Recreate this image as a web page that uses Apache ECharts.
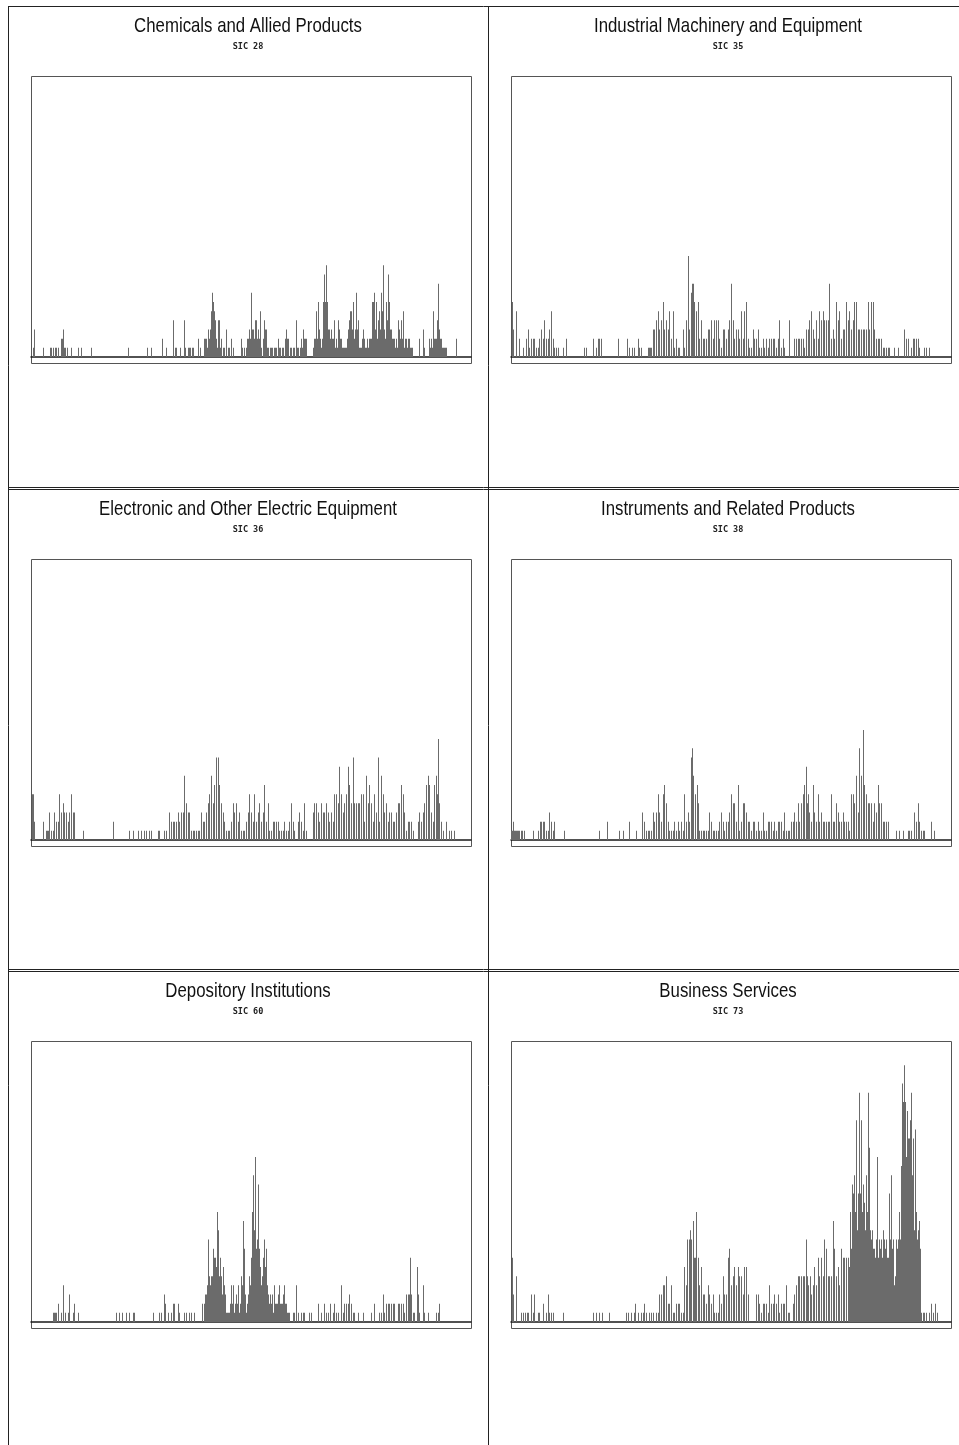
<!DOCTYPE html>
<html>
<head>
<meta charset="utf-8">
<script src="https://cdn.jsdelivr.net/npm/echarts@6/dist/echarts.min.js"></script>
<style>
  html, body { margin: 0; padding: 0; background: #fff; }
  #chart { width: 959px; height: 1445px; }
</style>
</head>
<body>
<div id="chart"></div>
<script>
// Industry panels: title, SIC code and counts per period ([period, count]).
const titles = [
  'Chemicals and Allied Products',
  'Industrial Machinery and Equipment',
  'Electronic and Other Electric Equipment',
  'Instruments and Related Products',
  'Depository Institutions',
  'Business Services'
];
const sicCodes = ['SIC 28', 'SIC 35', 'SIC 36', 'SIC 38', 'SIC 60', 'SIC 73'];

const chemicals = [[2,1],[3,3],[12,1],[19,1],[20,1],[22,1],[24,1],[25,1],[27,1],[30,2],[31,2],[32,3],[33,1],[34,1],[36,1],[40,1],[47,1],[50,1],[60,1],[97,1],[116,1],[120,1],[131,2],[135,1],[142,4],[144,1],[145,1],[149,1],[153,4],[154,1],[157,1],[158,1],[159,1],[161,1],[162,1],[167,2],[169,1],[173,2],[174,2],[175,2],[176,1],[177,3],[178,2],[179,3],[180,5],[181,7],[182,6],[183,5],[184,4],[185,2],[186,1],[187,4],[188,4],[189,1],[190,2],[192,1],[193,1],[195,3],[197,1],[198,1],[200,2],[202,1],[210,2],[211,1],[213,1],[215,1],[216,2],[217,2],[218,3],[219,2],[220,7],[221,3],[222,3],[223,2],[224,4],[225,4],[226,2],[227,3],[228,2],[229,5],[230,1],[232,2],[233,4],[234,3],[235,3],[236,1],[237,1],[239,1],[240,1],[241,1],[243,1],[244,1],[245,1],[247,2],[248,1],[249,1],[251,1],[252,1],[254,2],[255,3],[256,2],[257,2],[259,1],[260,1],[262,1],[263,1],[265,4],[266,1],[267,1],[269,1],[270,2],[271,1],[272,3],[273,2],[274,2],[275,2],[282,1],[283,2],[284,2],[285,5],[286,2],[287,6],[288,3],[289,2],[290,1],[291,2],[292,6],[293,9],[294,6],[295,10],[296,6],[297,3],[298,3],[299,2],[300,3],[301,2],[302,2],[303,4],[304,1],[305,2],[306,1],[307,4],[308,3],[309,2],[310,2],[311,1],[312,1],[313,1],[314,1],[315,1],[316,2],[317,3],[318,4],[319,5],[320,5],[321,3],[322,6],[323,2],[324,3],[325,7],[326,3],[327,4],[328,1],[329,1],[330,1],[331,2],[332,3],[333,2],[334,1],[335,1],[336,2],[337,1],[338,2],[339,2],[340,2],[341,6],[342,6],[343,7],[344,3],[345,6],[346,2],[347,4],[348,5],[349,3],[350,7],[351,5],[352,10],[353,3],[354,2],[355,6],[356,4],[357,9],[358,6],[359,3],[360,3],[361,2],[362,2],[363,2],[364,1],[365,2],[366,1],[367,4],[368,3],[369,2],[370,4],[371,2],[372,5],[373,1],[374,2],[375,2],[376,1],[377,2],[378,2],[379,1],[380,1],[381,1],[388,2],[392,3],[393,1],[398,2],[399,1],[400,2],[401,1],[402,5],[403,2],[404,2],[405,2],[406,4],[407,8],[408,3],[409,2],[410,2],[411,1],[412,1],[413,1],[414,1],[415,1],[425,2]];

const machinery = [[1,6],[2,3],[5,5],[8,2],[12,1],[15,2],[17,3],[18,1],[20,2],[22,2],[23,2],[25,1],[27,1],[28,2],[30,3],[32,2],[33,4],[35,2],[37,2],[38,3],[40,5],[42,2],[43,1],[45,1],[47,1],[52,1],[55,2],[73,1],[75,1],[82,2],[85,1],[87,2],[88,2],[90,2],[107,2],[116,2],[118,1],[121,1],[123,1],[127,2],[128,1],[130,1],[137,1],[138,1],[139,1],[140,1],[142,3],[143,3],[145,4],[147,5],[148,3],[150,4],[152,6],[153,3],[155,4],[157,3],[158,5],[160,2],[162,5],[163,1],[165,2],[167,1],[168,1],[172,3],[173,1],[175,4],[177,11],[178,3],[180,7],[181,8],[182,8],[183,6],[185,5],[187,6],[188,2],[190,4],[192,2],[193,2],[195,2],[197,3],[198,3],[200,4],[202,2],[203,4],[205,4],[207,4],[208,2],[210,1],[212,3],[213,3],[215,2],[217,3],[218,4],[220,8],[222,4],[223,2],[225,3],[227,3],[228,2],[230,5],[232,2],[233,5],[235,6],[237,2],[238,1],[240,1],[242,3],[243,2],[245,2],[247,3],[248,1],[250,1],[252,2],[253,1],[255,2],[257,1],[258,2],[260,2],[262,2],[263,2],[265,1],[267,2],[268,4],[270,1],[272,2],[273,1],[278,4],[283,2],[285,2],[287,2],[288,2],[290,2],[292,2],[293,1],[295,3],[297,3],[298,4],[300,5],[302,3],[303,2],[305,4],[307,2],[308,5],[310,4],[312,5],[313,4],[315,4],[317,4],[318,8],[320,2],[322,3],[323,2],[325,6],[327,4],[328,5],[330,2],[332,3],[333,3],[335,6],[337,4],[338,5],[340,3],[342,4],[343,6],[345,6],[347,3],[348,3],[350,3],[352,3],[353,3],[355,3],[357,6],[358,3],[360,6],[362,6],[363,3],[365,2],[367,2],[368,2],[370,2],[372,1],[373,1],[375,1],[377,1],[378,1],[383,1],[387,1],[393,3],[395,2],[397,2],[400,1],[402,2],[403,2],[405,2],[407,2],[408,1],[413,1],[415,1],[418,1]];

const electronic = [[1,5],[2,5],[3,2],[12,2],[15,1],[16,1],[17,1],[18,3],[20,1],[22,1],[23,3],[25,2],[27,2],[28,5],[30,3],[32,4],[33,3],[35,3],[37,2],[38,3],[40,5],[42,3],[43,3],[52,1],[82,2],[98,1],[102,1],[107,1],[110,1],[113,1],[115,1],[118,1],[120,1],[127,1],[128,1],[133,1],[135,1],[138,3],[140,2],[142,2],[143,2],[145,2],[147,3],[148,2],[150,3],[152,3],[153,7],[155,4],[157,3],[158,3],[160,1],[162,1],[163,1],[165,1],[167,1],[168,1],[170,3],[172,2],[173,2],[175,3],[177,4],[178,5],[180,7],[182,4],[183,6],[185,9],[187,9],[188,6],[190,4],[192,3],[193,2],[195,1],[197,1],[198,1],[200,2],[202,4],[203,3],[205,4],[207,2],[208,3],[210,1],[212,1],[213,1],[215,2],[217,3],[218,5],[220,3],[222,2],[223,5],[225,2],[227,3],[228,4],[230,2],[232,3],[233,6],[235,2],[237,4],[238,1],[240,1],[242,2],[243,2],[245,2],[247,2],[248,1],[250,1],[252,1],[253,2],[255,1],[257,1],[258,2],[260,4],[262,2],[263,1],[267,2],[268,3],[270,2],[272,1],[273,4],[275,1],[282,3],[283,4],[285,4],[287,3],[288,2],[290,4],[292,3],[293,3],[295,4],[297,3],[298,2],[300,3],[302,2],[303,5],[305,5],[307,4],[308,8],[310,5],[312,3],[313,4],[315,5],[317,8],[318,6],[320,4],[322,9],[323,4],[325,4],[327,4],[328,4],[330,5],[332,5],[333,2],[335,7],[337,4],[338,6],[340,4],[342,2],[343,5],[345,3],[347,9],[348,2],[350,7],[352,5],[353,3],[355,4],[357,2],[358,3],[360,3],[362,2],[363,2],[365,3],[367,4],[368,4],[370,6],[372,5],[373,3],[375,1],[377,2],[378,2],[380,2],[382,1],[387,2],[388,3],[390,2],[392,3],[393,4],[395,6],[397,7],[398,6],[400,3],[402,2],[403,6],[405,7],[406,5],[407,11],[408,4],[410,2],[412,1],[415,2],[418,1],[420,1],[423,1]];

const instruments = [[0,1],[1,1],[2,2],[3,1],[4,1],[5,1],[6,1],[7,1],[8,1],[10,1],[11,1],[13,1],[22,1],[27,1],[29,2],[30,2],[32,2],[33,2],[35,1],[37,1],[38,3],[40,2],[42,1],[43,2],[53,1],[88,1],[96,2],[108,1],[112,1],[118,2],[125,1],[131,3],[133,2],[135,1],[137,1],[138,1],[140,1],[142,3],[143,2],[145,3],[147,5],[148,3],[150,2],[152,5],[153,6],[155,4],[157,2],[158,1],[160,1],[162,1],[163,2],[165,1],[167,2],[168,1],[170,2],[172,1],[173,5],[175,2],[177,3],[178,2],[180,9],[181,10],[182,7],[184,5],[186,6],[187,4],[188,1],[190,1],[192,1],[193,1],[195,1],[197,1],[198,3],[200,2],[202,1],[203,1],[205,1],[207,1],[208,2],[210,3],[212,2],[213,1],[215,2],[217,2],[218,3],[220,5],[222,4],[223,4],[225,2],[227,6],[228,1],[230,2],[232,4],[233,4],[235,3],[237,2],[238,2],[240,1],[242,2],[243,2],[245,1],[247,2],[248,1],[250,1],[252,3],[253,1],[255,1],[257,2],[258,2],[260,2],[262,1],[263,2],[265,1],[267,2],[268,2],[270,2],[272,1],[273,3],[275,1],[277,1],[278,1],[280,2],[282,2],[283,3],[285,2],[287,4],[288,2],[290,4],[292,5],[293,6],[295,8],[296,4],[297,5],[298,3],[300,2],[302,6],[303,3],[305,2],[307,5],[308,2],[310,3],[312,2],[313,2],[315,2],[317,2],[318,2],[320,5],[322,2],[323,2],[325,4],[327,3],[328,2],[330,2],[332,3],[333,2],[335,2],[337,2],[338,1],[340,5],[342,5],[343,4],[345,7],[347,3],[348,10],[350,7],[352,12],[353,6],[355,5],[357,4],[358,4],[360,4],[362,2],[363,4],[365,3],[367,6],[368,4],[370,4],[372,2],[373,2],[375,2],[377,2],[385,1],[388,1],[392,1],[397,1],[398,1],[400,1],[403,3],[405,2],[407,4],[408,2],[410,1],[412,1],[413,1],[420,2],[423,1]];

const depository = [[22,1],[23,1],[24,1],[25,1],[27,2],[30,1],[32,4],[34,1],[37,1],[38,3],[42,1],[43,2],[47,1],[85,1],[88,1],[91,1],[95,1],[98,1],[102,1],[103,1],[122,1],[128,1],[130,1],[133,3],[134,2],[137,1],[140,1],[142,2],[143,2],[147,2],[148,1],[153,1],[155,1],[158,1],[160,1],[163,1],[171,2],[173,2],[174,3],[175,3],[176,4],[177,9],[178,5],[179,4],[180,5],[181,5],[182,8],[183,7],[184,7],[185,6],[186,12],[187,10],[188,5],[189,7],[190,5],[191,3],[192,6],[193,4],[194,3],[195,1],[196,1],[197,1],[198,1],[199,2],[200,4],[201,2],[202,4],[203,1],[204,2],[205,3],[206,2],[207,4],[208,1],[209,2],[210,5],[211,4],[212,11],[213,8],[214,3],[215,1],[216,2],[217,3],[218,5],[219,4],[220,7],[221,12],[222,16],[223,10],[224,18],[225,8],[226,9],[227,15],[228,8],[229,6],[230,4],[231,5],[232,7],[233,9],[234,6],[235,8],[236,4],[237,3],[238,2],[239,3],[240,2],[241,3],[242,1],[243,4],[244,2],[245,2],[246,2],[247,3],[248,4],[249,2],[250,2],[251,2],[252,3],[253,4],[254,2],[255,2],[256,1],[257,1],[258,1],[262,1],[263,1],[265,4],[267,1],[270,1],[272,1],[273,1],[278,1],[280,1],[287,2],[290,1],[293,2],[295,1],[297,1],[299,2],[302,1],[303,2],[305,1],[307,1],[310,4],[312,1],[313,2],[315,2],[317,2],[318,3],[320,2],[322,1],[323,1],[327,1],[332,1],[340,1],[343,2],[348,1],[350,1],[352,3],[353,1],[355,2],[357,2],[358,2],[360,2],[362,2],[363,2],[367,2],[368,2],[370,2],[372,2],[373,1],[375,3],[377,3],[378,3],[379,7],[380,3],[382,1],[383,1],[386,6],[387,3],[388,1],[392,4],[393,1],[397,1],[405,1],[407,1],[408,2]];

const business = [[1,7],[2,3],[5,5],[10,1],[12,1],[14,1],[16,1],[17,1],[20,3],[22,1],[23,3],[27,1],[28,1],[32,2],[35,1],[37,3],[38,1],[40,1],[42,1],[52,1],[82,1],[85,1],[88,1],[91,1],[98,1],[115,1],[117,1],[120,1],[123,1],[124,2],[127,1],[130,1],[132,1],[133,2],[135,1],[138,1],[140,1],[142,1],[145,1],[147,1],[148,3],[150,3],[152,4],[153,4],[155,5],[157,2],[158,2],[160,4],[162,1],[163,1],[165,2],[167,2],[168,2],[170,1],[172,1],[173,6],[175,4],[176,9],[178,9],[179,10],[180,9],[182,11],[183,7],[184,7],[185,12],[187,7],[188,4],[190,6],[192,3],[193,3],[195,2],[197,4],[198,3],[200,2],[202,3],[203,1],[205,1],[207,1],[208,3],[210,2],[212,5],[213,3],[215,3],[217,7],[218,8],[220,4],[222,5],[223,6],[225,4],[227,6],[228,5],[230,5],[232,3],[233,6],[235,6],[237,3],[245,3],[247,3],[248,2],[250,1],[252,2],[253,2],[255,2],[257,1],[258,4],[260,2],[262,2],[263,3],[265,2],[267,3],[268,1],[270,2],[272,2],[273,2],[275,4],[277,1],[278,1],[282,2],[283,3],[285,4],[287,5],[288,5],[290,5],[292,5],[293,5],[295,9],[296,5],[297,4],[299,5],[300,3],[302,4],[303,6],[305,4],[307,7],[308,5],[310,7],[312,5],[313,9],[315,8],[317,5],[318,5],[320,5],[322,11],[323,8],[325,5],[327,6],[328,4],[330,8],[332,7],[333,7],[335,7],[337,7],[338,6],[339,12],[340,8],[341,15],[342,14],[343,16],[344,12],[345,22],[346,10],[347,14],[348,25],[349,14],[350,22],[351,12],[352,15],[353,13],[354,10],[355,16],[356,12],[357,25],[358,19],[359,10],[360,9],[361,10],[362,8],[363,8],[364,7],[365,9],[366,18],[367,7],[368,9],[369,8],[370,9],[371,7],[372,10],[373,9],[374,8],[375,9],[376,7],[377,7],[378,14],[379,9],[380,16],[381,8],[382,9],[383,4],[384,5],[385,9],[386,8],[387,9],[388,12],[389,9],[390,17],[391,26],[392,24],[393,28],[394,24],[395,18],[396,23],[397,20],[398,20],[399,22],[400,25],[401,16],[402,20],[403,10],[404,21],[405,12],[406,9],[407,10],[408,11],[409,8],[410,1],[412,1],[413,1],[415,1],[418,1],[420,2],[422,1],[424,2],[426,1]];

const panelData = [chemicals, machinery, electronic, instruments, depository, business];

// Layout of the 2 x 3 grid of panels
const colX = [31, 511];          // left edge of each plot frame
const rowY = [76, 559, 1041];    // top edge of each plot frame
const cellCenterX = [248, 728];
const titleY = [26, 509, 991];
const plotW = 440, plotH = 281;  // baseline sits 281px below the frame top
const frameH = 287;
const yMax = 30.64;              // count scale shared by all panels

const grids = [], xAxes = [], yAxes = [], series = [], graphics = [];

// cell borders
const line = (x1, y1, x2, y2, color, w) => ({
  type: 'line', silent: true,
  shape: { x1, y1, x2, y2 },
  style: { stroke: color || '#222', lineWidth: w || 1 }
});
graphics.push(line(8.5, 6, 8.5, 1445));
graphics.push(line(488.5, 6, 488.5, 1445));
graphics.push(line(8, 6.5, 959, 6.5));
graphics.push(line(8, 487.5, 959, 487.5));
graphics.push(line(8, 489.5, 959, 489.5));
graphics.push(line(8, 969.5, 959, 969.5));
graphics.push(line(8, 971.5, 959, 971.5));

panelData.forEach((data, i) => {
  const col = i % 2, row = Math.floor(i / 2);
  const left = colX[col], top = rowY[row];
  grids.push({ left, top, width: plotW, height: plotH, containLabel: false });
  xAxes.push({
    type: 'value', gridIndex: i, min: -0.5, max: 439.5,
    axisLine: { show: true, onZero: false, lineStyle: { color: '#1a1a1a', width: 1.5 } },
    axisTick: { show: false }, axisLabel: { show: false }, splitLine: { show: false }
  });
  yAxes.push({
    type: 'value', gridIndex: i, min: 0, max: yMax, show: false,
    splitLine: { show: false }
  });
  series.push({
    type: 'bar', xAxisIndex: i, yAxisIndex: i, data,
    barWidth: 1, barGap: '0%',
    itemStyle: { color: '#6b6b6b' },
    silent: true
  });
  // plot frame
  graphics.push({
    type: 'rect', silent: true,
    shape: { x: left + 0.5, y: top + 0.5, width: plotW, height: frameH },
    style: { fill: 'none', stroke: '#555', lineWidth: 1 }
  });
  // panel title and SIC code (title set in a condensed face)
  graphics.push({
    type: 'text', silent: true,
    x: cellCenterX[col], y: titleY[row], scaleX: 0.8,
    style: {
      text: titles[i], fill: '#111',
      font: '21px "Liberation Sans", Arial, sans-serif',
      textAlign: 'center', textVerticalAlign: 'middle'
    }
  });
  graphics.push({
    type: 'text', silent: true,
    x: cellCenterX[col], y: titleY[row] + 21,
    style: {
      text: sicCodes[i], fill: '#222',
      font: 'bold 8.5px "DejaVu Sans Mono", monospace',
      textAlign: 'center', textVerticalAlign: 'middle'
    }
  });
});

const chart = echarts.init(document.getElementById('chart'), null, { renderer: 'canvas' });
chart.setOption({
  animation: false,
  backgroundColor: '#fff',
  grid: grids,
  xAxis: xAxes,
  yAxis: yAxes,
  series,
  graphic: { elements: graphics }
});
</script>
</body>
</html>
